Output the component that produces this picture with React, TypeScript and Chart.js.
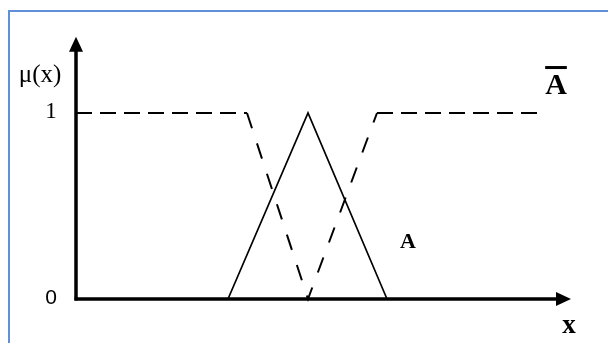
import { useEffect, useRef } from "react";
import { Chart, registerables } from "chart.js";

Chart.register(...registerables);

// Fuzzy set A: triangular membership function
const triangleX = [15.2, 23.2, 31.1];
const triangleMu = [0, 1, 0];

// Complement of A (dashed)
const complementX = [0, 17.1, 23.2, 30.1, 46.9];
const complementMu = [1, 1, 0, 1, 1];

// Membership axis ticks
const yTickValues = [0, 1];
const yTickLabels = ["0", "1"];
const yTickFonts = ["21px 'Liberation Sans', sans-serif", "23px 'Liberation Serif', serif"];

// Axis extents
const xMax = 50;
const yMax = 1.5;
const xArrowTip = 49.5;
const yArrowTip = 1.41;

// Text annotations (data coordinates)
const setLabelA = { text: "A", x: 33.2, y: 0.306 };
const setLabelComplement = { text: "A", x: 48.0, y: 1.145 };
const xAxisTitle = { text: "x", x: 49.3, y: -0.145 };
const yAxisTitle = { text: "μ(x)", x: -3.6, y: 1.204 };

const fuzzyAxesPlugin = {
  id: "fuzzyAxes",
  beforeDraw(chart: any) {
    const { ctx, width, height } = chart;
    ctx.save();
    ctx.fillStyle = "#ffffff";
    ctx.fillRect(0, 0, width, height);
    // frame (top and left edges)
    ctx.strokeStyle = "#5f90d8";
    ctx.lineWidth = 2;
    ctx.beginPath();
    ctx.moveTo(width, 11);
    ctx.lineTo(9, 11);
    ctx.lineTo(9, height);
    ctx.stroke();
    ctx.restore();
  },
  afterDatasetsDraw(chart: any) {
    const { ctx } = chart;
    const xs = chart.scales.x;
    const ys = chart.scales.y;
    const px = (v: number) => xs.getPixelForValue(v);
    const py = (v: number) => ys.getPixelForValue(v);
    const x0 = px(0);
    const y0 = py(0);
    ctx.save();
    ctx.strokeStyle = "#000";
    ctx.fillStyle = "#000";
    ctx.lineWidth = 3.5;
    ctx.lineCap = "butt";

    // y axis
    const yTip = py(yArrowTip);
    ctx.beginPath();
    ctx.moveTo(x0, y0 + 1.5);
    ctx.lineTo(x0, yTip + 10);
    ctx.stroke();
    ctx.beginPath();
    ctx.moveTo(x0, yTip);
    ctx.lineTo(x0 - 7, yTip + 15);
    ctx.lineTo(x0 + 7, yTip + 15);
    ctx.closePath();
    ctx.fill();

    // x axis
    const xTip = px(xArrowTip);
    ctx.beginPath();
    ctx.moveTo(x0 - 1.5, y0);
    ctx.lineTo(xTip - 10, y0);
    ctx.stroke();
    ctx.beginPath();
    ctx.moveTo(xTip, y0);
    ctx.lineTo(xTip - 15, y0 - 7);
    ctx.lineTo(xTip - 15, y0 + 7);
    ctx.closePath();
    ctx.fill();

    // tick labels
    ctx.textAlign = "center";
    ctx.textBaseline = "middle";
    yTickValues.forEach((v, i) => {
      ctx.font = yTickFonts[i];
      ctx.fillText(yTickLabels[i], x0 - 25, py(v) - 1);
    });

    // axis titles
    ctx.font = "25px 'Liberation Serif', serif";
    ctx.fillText(yAxisTitle.text, px(yAxisTitle.x), py(yAxisTitle.y));
    ctx.font = "bold 27px 'Liberation Serif', serif";
    ctx.fillText(xAxisTitle.text, px(xAxisTitle.x), py(xAxisTitle.y));

    // set labels
    ctx.font = "bold 22px 'Liberation Serif', serif";
    ctx.fillText(setLabelA.text, px(setLabelA.x), py(setLabelA.y));
    ctx.font = "bold 30px 'Liberation Serif', serif";
    const cx = px(setLabelComplement.x);
    const cy = py(setLabelComplement.y);
    ctx.fillText(setLabelComplement.text, cx, cy);
    const w = ctx.measureText(setLabelComplement.text).width;
    ctx.fillRect(cx - w / 2, cy - 20, w, 3);
    ctx.restore();
  },
};

export default function App() {
  const canvasRef = useRef<HTMLCanvasElement | null>(null);

  useEffect(() => {
    if (!canvasRef.current) return;
    const slanted = (ctx: any) =>
      ctx.p0.parsed.y !== ctx.p1.parsed.y ? [16, 16] : [16, 8];
    const chart = new Chart(canvasRef.current, {
      type: "line",
      data: {
        datasets: [
          {
            label: "A",
            data: triangleX.map((x, i) => ({ x, y: triangleMu[i] })),
            borderColor: "#000",
            borderWidth: 1.7,
            pointRadius: 0,
            tension: 0,
            clip: false as any,
          },
          {
            label: "not A",
            data: complementX.map((x, i) => ({ x, y: complementMu[i] })),
            borderColor: "#000",
            borderWidth: 2,
            pointRadius: 0,
            tension: 0,
            clip: false as any,
            segment: { borderDash: slanted },
          },
        ],
      },
      options: {
        responsive: false,
        animation: false,
        devicePixelRatio: 1,
        layout: { padding: { left: 76, right: 32, top: 20, bottom: 44 } },
        plugins: { legend: { display: false }, tooltip: { enabled: false } },
        events: [],
        scales: {
          x: { type: "linear", min: 0, max: xMax, display: false },
          y: { type: "linear", min: 0, max: yMax, display: false },
        },
      },
      plugins: [fuzzyAxesPlugin],
    });
    return () => chart.destroy();
  }, []);

  return (
    <canvas
      ref={canvasRef}
      width={608}
      height={343}
      style={{ position: "absolute", left: 0, top: 0, width: 608, height: 343 }}
    />
  );
}
